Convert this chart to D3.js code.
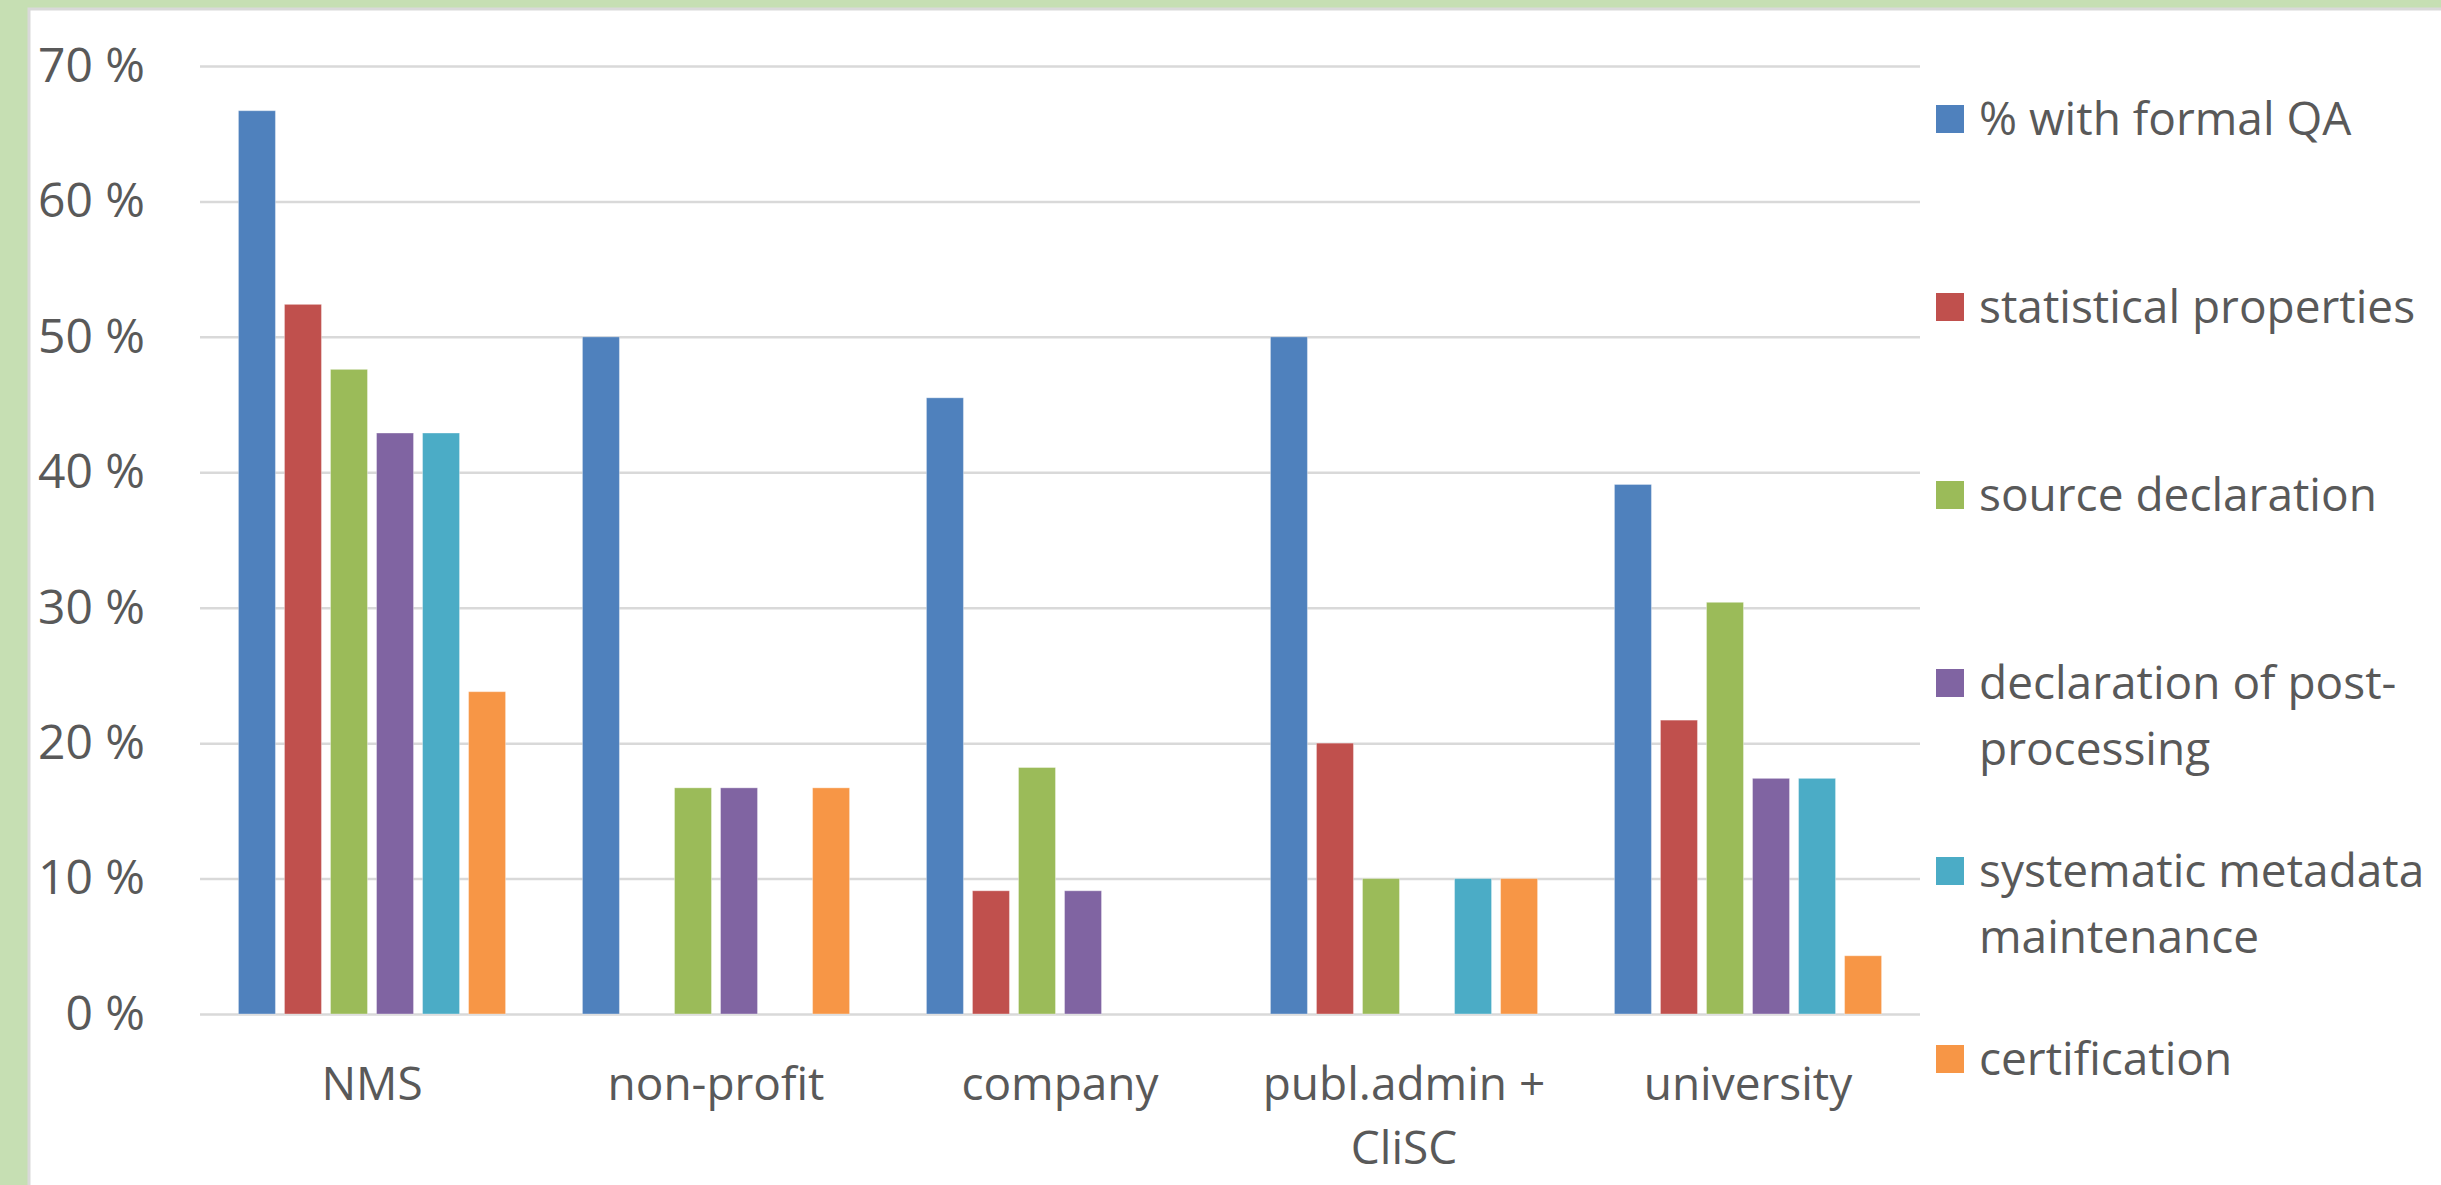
<!DOCTYPE html>
<html>
<head>
<meta charset="utf-8">
<script src="https://cdn.jsdelivr.net/npm/d3@7"></script>
<style>
    html, body { margin: 0; padding: 0; background: #c6dfb3; overflow: hidden; }
    text { font-family: "Open Sans", "Noto Sans", sans-serif; fill: #595959; }
</style>
</head>
<body>
<script>
// data
const categories = ['NMS', 'non-profit', 'company', 'publ.admin + CliSC', 'university'];
const series = [
    '% with formal QA',
    'statistical properties',
    'source declaration',
    'declaration of post-processing',
    'systematic metadata maintenance',
    'certification'
];
const formalQA = [66.7, 50.0, 45.5, 50.0, 39.1];
const statProps = [52.4, 0, 9.1, 20.0, 21.7];
const sourceDecl = [47.6, 16.7, 18.2, 10.0, 30.4];
const postProc = [42.9, 16.7, 9.1, 0, 17.4];
const metaMaint = [42.9, 0, 0, 10.0, 17.4];
const certification = [23.8, 16.7, 0, 10.0, 4.3];
const yTicks = [0, 10, 20, 30, 40, 50, 60, 70];

const values = [formalQA, statProps, sourceDecl, postProc, metaMaint, certification];
const colors = ['#4f81bd', '#c0504d', '#9bbb59', '#8064a2', '#4bacc6', '#f79646'];

// layout
const width = 2441;
const height = 1185;
const plot = {left: 200, right: 1920, top: 66, bottom: 1014};

const svg = d3.select('body')
    .append('svg')
    .attr('width', width)
    .attr('height', height)
    .style('display', 'block');

// green frame + chart area
svg.append('rect')
    .attr('width', width)
    .attr('height', height)
    .attr('fill', '#c6dfb3');

svg.append('rect')
    .attr('x', 29)
    .attr('y', 9)
    .attr('width', width)
    .attr('height', height)
    .attr('fill', '#fff')
    .attr('stroke', '#d9d9d9')
    .attr('stroke-width', 3);

const x0 = d3.scaleBand()
    .domain(categories)
    .range([plot.left, plot.right]);

const x1 = d3.scaleBand()
    .domain(series)
    .range([0, x0.bandwidth()])
    .paddingInner(0.196)
    .paddingOuter(0.835);

const y = d3.scaleLinear()
    .domain([0, 70])
    .range([plot.bottom, plot.top]);

// y axis with gridlines
const yAxis = d3.axisLeft(y)
    .tickValues(yTicks)
    .tickSize(-(plot.right - plot.left))
    .tickPadding(55)
    .tickFormat(d => d + ' %');

const yg = svg.append('g')
    .attr('transform', 'translate(' + plot.left + ',0)')
    .call(yAxis);
yg.select('.domain').remove();
yg.selectAll('line').attr('stroke', '#d9d9d9').attr('stroke-width', 2.5);
yg.selectAll('text')
    .style('font-size', '48px')
    .style('font-family', '"Open Sans", sans-serif')
    .attr('fill', '#595959');

// bars
const groups = svg.append('g')
    .selectAll('g')
    .data(series)
    .join('g')
    .attr('fill', (d, i) => colors[i]);

groups.selectAll('rect')
    .data((s, i) => categories.map((c, j) => ({cat: c, ser: s, v: values[i][j]})))
    .join('rect')
    .attr('x', d => x0(d.cat) + x1(d.ser))
    .attr('y', d => y(d.v))
    .attr('width', x1.bandwidth())
    .attr('height', d => y(0) - y(d.v))
    .attr('stroke', 'rgba(255,255,255,0.35)')
    .attr('stroke-width', 1);

// wrap text into lines, breaking on spaces and after hyphens
function wrap(textSel, maxWidth, lineHeight) {
    textSel.each(function () {
        const t = d3.select(this);
        const tokens = t.text().split(/\s+/)
            .flatMap(w => w.split(/(?<=-)/));
        const x = t.attr('x') || 0;
        t.text(null);
        let line = '';
        let lineNo = 0;
        let tspan = t.append('tspan').attr('x', x).attr('dy', 0);
        tokens.forEach(tok => {
            const join = line === '' ? tok : (line.endsWith('-') ? line + tok : line + ' ' + tok);
            tspan.text(join);
            if (tspan.node().getComputedTextLength() > maxWidth && line !== '') {
                tspan.text(line);
                line = tok;
                lineNo++;
                tspan = t.append('tspan').attr('x', x).attr('dy', lineHeight).text(tok);
            } else {
                line = join;
            }
        });
    });
}

// category labels
const xAxis = d3.axisBottom(x0).tickSize(0).tickPadding(0);
const xg = svg.append('g')
    .attr('transform', 'translate(0,' + plot.bottom + ')')
    .call(xAxis);
xg.select('.domain').remove();
xg.selectAll('text')
    .attr('y', 86)
    .attr('dy', null)
    .style('font-size', '46px')
    .style('font-family', '"Open Sans", sans-serif')
    .attr('fill', '#595959')
    .call(wrap, 300, 64);

// legend
const legend = svg.append('g')
    .selectAll('g')
    .data(series)
    .join('g')
    .attr('transform', (d, i) => 'translate(1936,' + (119 + i * 188) + ')');

legend.append('rect')
    .attr('x', 0)
    .attr('y', -14)
    .attr('width', 28)
    .attr('height', 28)
    .attr('fill', (d, i) => colors[i]);

legend.append('text')
    .attr('x', 43)
    .attr('y', 16)
    .style('font-size', '46px')
    .text(d => d)
    .call(wrap, 462, 66);
</script>
</body>
</html>
